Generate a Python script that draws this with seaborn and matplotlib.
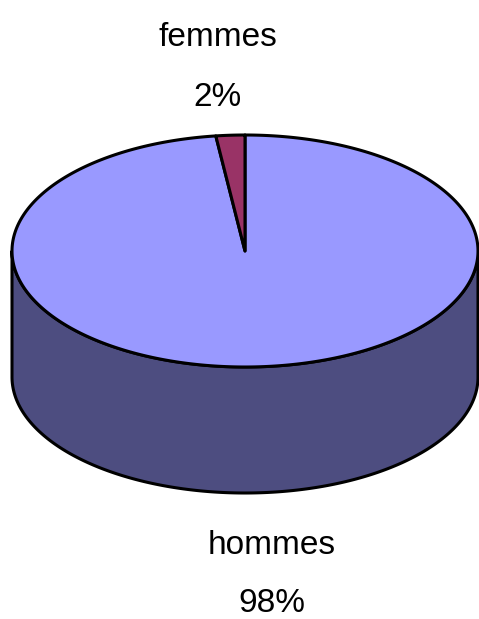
import numpy as np
import seaborn as sns
import matplotlib.pyplot as plt
from matplotlib.patches import Polygon

labels = ['hommes', 'femmes']
values = [98, 2]
top_colors = ['#9999FF', '#993366']
side_color = '#4D4D80'

sns.set_theme(style='white')
plt.rcParams['font.family'] = ['Liberation Sans', 'DejaVu Sans']

fig = plt.figure(figsize=(4.79, 6.19), dpi=100)
ax = fig.add_axes([0, 0, 1, 1])
ax.set_xlim(0, 479)
ax.set_ylim(619, 0)
ax.axis('off')

# pie geometry (pixels)
cx, cy = 245, 251
rx, ry = 233, 116
depth = 126

def pt(theta, dy=0):
    return cx + rx * np.cos(theta), cy - ry * np.sin(theta) + dy

# slices go clockwise from the top
fracs = np.array(values) / sum(values)
ends = np.pi / 2 - np.cumsum(fracs) * 2 * np.pi
starts = np.concatenate([[np.pi / 2], ends[:-1]])

# visible side of the cylinder (front half, all hommes)
t = np.linspace(-np.pi, 0, 300)
xt, yt = pt(t)
xb, yb = pt(t[::-1], depth)
ax.add_patch(Polygon(np.column_stack([np.r_[xt, xb], np.r_[yt, yb]]),
                     closed=True, fc=side_color, ec='black', lw=2.2, joinstyle='round'))

# top face
for s, e, col in zip(starts, ends, top_colors):
    t = np.linspace(s, e, 400)
    xs, ys = pt(t)
    poly = np.column_stack([np.r_[cx, xs], np.r_[cy, ys]])
    ax.add_patch(Polygon(poly, closed=True, fc=col, ec='black', lw=2.2, joinstyle='round'))

# labels
fs = 24
ax.text(218, 38, labels[1], ha='center', va='center', fontsize=fs, color='black')
ax.text(218, 98, f'{values[1]}%', ha='center', va='center', fontsize=fs, color='black')
ax.text(272, 545, labels[0], ha='center', va='center', fontsize=fs, color='black')
ax.text(272, 603, f'{values[0]}%', ha='center', va='center', fontsize=fs, color='black')

fig.savefig('out.png', dpi=100)
